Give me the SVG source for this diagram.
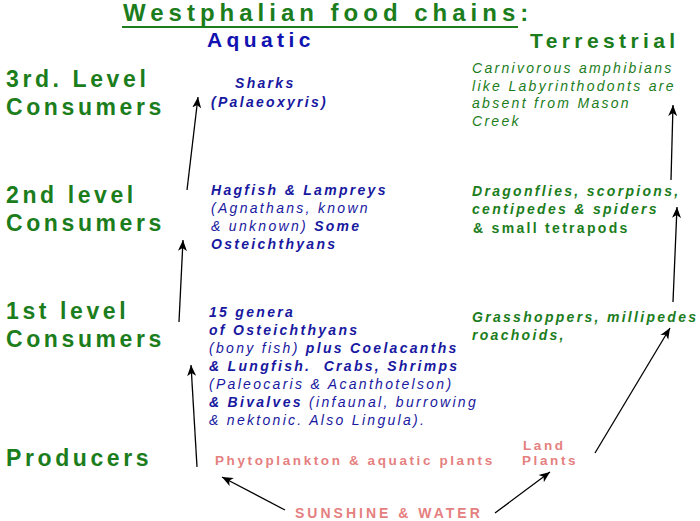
<svg xmlns="http://www.w3.org/2000/svg" width="700" height="521" viewBox="0 0 700 521">
<style>
text{font-family:"Liberation Sans",Arial,sans-serif;}
.lvl{font-size:23px;font-weight:bold;fill:#1b7d1b;letter-spacing:3.6px;}
.hd{font-size:21px;font-weight:bold;letter-spacing:4.4px;}
.aq{font-size:14px;fill:#1818a0;letter-spacing:2.3px;font-style:italic;}
.tr{font-size:14px;fill:#1b7d1b;letter-spacing:2.3px;font-style:italic;}
.b{font-weight:bold;}
.n{font-weight:normal;}
.pk{font-size:13.5px;font-weight:bold;fill:#e58080;letter-spacing:2.6px;}
.arr{stroke:#000;stroke-width:1.3;fill:none;marker-end:url(#ah);}
</style>
<defs>
<marker id="ah" markerWidth="12" markerHeight="10" refX="11" refY="5" orient="auto" markerUnits="userSpaceOnUse">
<path d="M0,0.5 L11,5 L0,9.5 L3,5 z" fill="#000"/>
</marker>
</defs>
<rect width="700" height="521" fill="#fff"/>
<g id="title">
<text x="123" y="21" style="font-size:24px;font-weight:bold;fill:#1b7d1b;letter-spacing:5px;">Westphalian food chains:</text>
<line x1="122" y1="27" x2="518" y2="27" stroke="#1b7d1b" stroke-width="2"/>
</g>
<g id="head-aquatic"><text class="hd" x="207" y="47" fill="#1212b0">Aquatic</text></g>
<g id="head-terrestrial"><text class="hd" x="530" y="48" fill="#1b7d1b">Terrestrial</text></g>
<g id="level-3"><text class="lvl" x="6" y="87">3rd. Level</text><text class="lvl" x="6" y="115">Consumers</text></g>
<g id="level-2"><text class="lvl" x="6" y="203">2nd level</text><text class="lvl" x="6" y="231">Consumers</text></g>
<g id="level-1"><text class="lvl" x="6" y="319">1st level</text><text class="lvl" x="6" y="347">Consumers</text></g>
<g id="level-0"><text class="lvl" x="6" y="466">Producers</text></g>
<g id="aq-3">
<text class="aq b" x="235" y="88">Sharks</text>
<text class="aq b" x="211" y="107">(Palaeoxyris)</text>
</g>
<g id="aq-2">
<text class="aq b" x="211" y="195">Hagfish &amp; Lampreys</text>
<text class="aq" x="211" y="213">(Agnathans, known</text>
<text class="aq" x="211" y="231">&amp; unknown) <tspan class="b">Some</tspan></text>
<text class="aq b" x="211" y="249">Osteichthyans</text>
</g>
<g id="aq-1">
<text class="aq b" x="209" y="317">15 genera</text>
<text class="aq b" x="209" y="335">of Osteichthyans</text>
<text class="aq" x="209" y="353">(bony fish) <tspan class="b">plus Coelacanths</tspan></text>
<text class="aq b" x="209" y="371" xml:space="preserve">&amp; Lungfish.  Crabs, Shrimps</text>
<text class="aq" x="209" y="389">(Paleocaris &amp; Acanthotelson)</text>
<text class="aq" x="209" y="407"><tspan class="b">&amp; Bivalves</tspan> (infaunal, burrowing</text>
<text class="aq" x="209" y="425">&amp; nektonic. Also Lingula).</text>
</g>
<g id="aq-0"><text class="pk" x="215" y="465">Phytoplankton &amp; aquatic plants</text></g>
<g id="tr-3">
<text class="tr" x="472" y="73">Carnivorous amphibians</text>
<text class="tr" x="472" y="91">like Labyrinthodonts are</text>
<text class="tr" x="472" y="108">absent from Mason</text>
<text class="tr" x="472" y="126">Creek</text>
</g>
<g id="tr-2">
<text class="tr b" x="472" y="196">Dragonflies, scorpions,</text>
<text class="tr b" x="472" y="214">centipedes &amp; spiders</text>
<text class="tr b" x="473" y="233" style="font-style:normal">&amp; small tetrapods</text>
</g>
<g id="tr-1">
<text class="tr b" x="472" y="322">Grasshoppers, millipedes</text>
<text class="tr b" x="472" y="340">roachoids,</text>
</g>
<g id="tr-0"><text class="pk" x="523" y="450">Land</text><text class="pk" x="522" y="465">Plants</text></g>
<g id="source"><text class="pk" x="295" y="518" style="font-size:14px;letter-spacing:3px">SUNSHINE &amp; WATER</text></g>
<g id="connectors">
<line class="arr" x1="197" y1="467" x2="191" y2="365"/>
<line class="arr" x1="179" y1="322" x2="183" y2="240"/>
<line class="arr" x1="187" y1="190" x2="198" y2="97"/>
<line class="arr" x1="671" y1="180" x2="673" y2="105"/>
<line class="arr" x1="673" y1="302" x2="677" y2="207"/>
<line class="arr" x1="595" y1="453" x2="670" y2="328"/>
<line class="arr" x1="285" y1="510" x2="222" y2="477"/>
<line class="arr" x1="495" y1="513" x2="550" y2="472"/>
</g>
</svg>
